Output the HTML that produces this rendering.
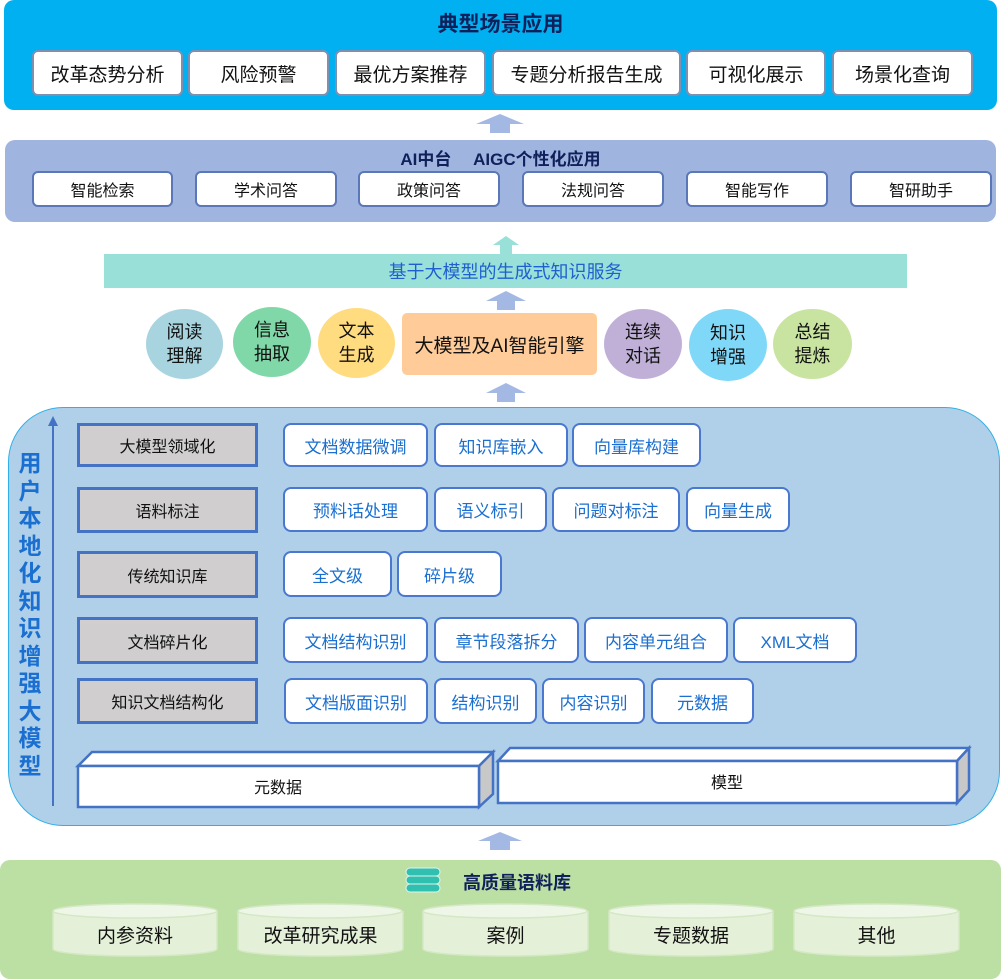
<!DOCTYPE html><html><head><meta charset="utf-8"><style>
*{box-sizing:border-box;margin:0;padding:0}
body{width:1001px;height:979px;position:relative;background:#fff;font-family:"Liberation Sans","Noto Sans CJK SC",sans-serif;overflow:hidden}
.a{position:absolute}
.c{display:flex;align-items:center;justify-content:center;text-align:center}
.tb{background:#fff;border:2px solid #7f8fb0;border-radius:6px;font-size:19px;color:#111}
.ab{background:#fff;border:2px solid #5a78b8;border-radius:6px;font-size:16px;color:#111}
.g{background:#d0cece;border:3px solid #4472c4;font-size:16px;color:#111}
.w{background:#fff;border:2px solid #4a78d0;border-radius:8px;font-size:17px;color:#1a6fd0}
.ov{border-radius:50%;font-size:18px;line-height:24px;color:#111}
.cy{font-size:19px;color:#111}
</style></head><body>
<div class="a" style="left:4px;top:0;width:993px;height:110px;background:#00b0f0;border-radius:10px"></div>
<div class="a c" style="left:4px;top:8px;width:993px;height:30px;font-size:21px;font-weight:bold;color:#10205a">典型场景应用</div>
<div class="a c tb" style="left:32px;top:50px;width:151px;height:46px">改革态势分析</div>
<div class="a c tb" style="left:188px;top:50px;width:141px;height:46px">风险预警</div>
<div class="a c tb" style="left:335px;top:50px;width:151px;height:46px">最优方案推荐</div>
<div class="a c tb" style="left:492px;top:50px;width:189px;height:46px">专题分析报告生成</div>
<div class="a c tb" style="left:686px;top:50px;width:140px;height:46px">可视化展示</div>
<div class="a c tb" style="left:832px;top:50px;width:141px;height:46px">场景化查询</div>

<svg class="a" style="left:0;top:0" width="1001" height="979">
<g fill="#a4b8e4">
<polygon points="476,124 500,114 524,124 510,124 510,133 490,133 490,124"/>
<polygon points="486,301 506,291 526,301 515,301 515,310 497,310 497,301"/>
<polygon points="486,393 506,383 526,393 515,393 515,402 497,402 497,393"/>
<polygon points="478,841 500,832 522,841 510,841 510,850 490,850 490,841"/>
</g>
<polygon fill="#99e0d8" points="493,245 506,236 519,245 512,245 512,254 500,254 500,245"/>
</svg>

<div class="a" style="left:5px;top:140px;width:991px;height:82px;background:#a0b4e0;border-radius:10px"></div>
<div class="a c" style="left:5px;top:145px;width:991px;height:24px;font-size:17px;font-weight:bold;color:#10205a;white-space:pre">AI中台　 AIGC个性化应用</div>
<div class="a c ab" style="left:32px;top:171px;width:141px;height:36px">智能检索</div>
<div class="a c ab" style="left:195px;top:171px;width:142px;height:36px">学术问答</div>
<div class="a c ab" style="left:358px;top:171px;width:142px;height:36px">政策问答</div>
<div class="a c ab" style="left:522px;top:171px;width:142px;height:36px">法规问答</div>
<div class="a c ab" style="left:686px;top:171px;width:142px;height:36px">智能写作</div>
<div class="a c ab" style="left:850px;top:171px;width:142px;height:36px">智研助手</div>

<div class="a c" style="left:104px;top:254px;width:803px;height:34px;background:#99e0d8;font-size:18px;color:#1f5fd0">基于大模型的生成式知识服务</div>

<div class="a c ov" style="left:146px;top:309px;width:77px;height:70px;background:#a8d4e0">阅读<br>理解</div>
<div class="a c ov" style="left:233px;top:307px;width:78px;height:70px;background:#80d8a8">信息<br>抽取</div>
<div class="a c ov" style="left:318px;top:308px;width:77px;height:70px;background:#ffdc80">文本<br>生成</div>
<div class="a c" style="left:402px;top:313px;width:195px;height:62px;background:#ffcc99;border-radius:5px;font-size:19px;color:#111">大模型及AI智能引擎</div>
<div class="a c ov" style="left:604px;top:309px;width:78px;height:70px;background:#c0b0d8">连续<br>对话</div>
<div class="a c ov" style="left:689px;top:309px;width:78px;height:72px;background:#80d8f8">知识<br>增强</div>
<div class="a c ov" style="left:773px;top:309px;width:79px;height:70px;background:#c8e4a0">总结<br>提炼</div>

<div class="a" style="left:8px;top:407px;width:992px;height:419px;background:#b0d0ea;border:1.5px solid #30b0e8;border-radius:55px"></div>
<div class="a" style="left:17px;top:450px;width:26px;font-size:23px;line-height:27.5px;font-weight:bold;color:#1a6fd0;text-align:center">用户本地化知识增强大模型</div>
<svg class="a" style="left:45px;top:416px" width="16" height="392"><line x1="8" y1="8" x2="8" y2="390" stroke="#4472c4" stroke-width="2"/><polygon points="3,10 8,0 13,10" fill="#4472c4"/></svg>

<div class="a c g" style="left:77px;top:423px;width:181px;height:44px">大模型领域化</div>
<div class="a c g" style="left:77px;top:487px;width:181px;height:46px">语料标注</div>
<div class="a c g" style="left:77px;top:551px;width:181px;height:47px">传统知识库</div>
<div class="a c g" style="left:77px;top:617px;width:181px;height:47px">文档碎片化</div>
<div class="a c g" style="left:77px;top:678px;width:181px;height:46px">知识文档结构化</div>

<div class="a c w" style="left:283px;top:423px;width:145px;height:44px">文档数据微调</div>
<div class="a c w" style="left:434px;top:423px;width:134px;height:44px">知识库嵌入</div>
<div class="a c w" style="left:572px;top:423px;width:129px;height:44px">向量库构建</div>
<div class="a c w" style="left:283px;top:487px;width:145px;height:45px">预料话处理</div>
<div class="a c w" style="left:434px;top:487px;width:113px;height:45px">语义标引</div>
<div class="a c w" style="left:552px;top:487px;width:128px;height:45px">问题对标注</div>
<div class="a c w" style="left:686px;top:487px;width:104px;height:45px">向量生成</div>
<div class="a c w" style="left:283px;top:551px;width:109px;height:46px">全文级</div>
<div class="a c w" style="left:397px;top:551px;width:105px;height:46px">碎片级</div>
<div class="a c w" style="left:283px;top:617px;width:145px;height:46px">文档结构识别</div>
<div class="a c w" style="left:434px;top:617px;width:145px;height:46px">章节段落拆分</div>
<div class="a c w" style="left:584px;top:617px;width:144px;height:46px">内容单元组合</div>
<div class="a c w" style="left:733px;top:617px;width:124px;height:46px">XML文档</div>
<div class="a c w" style="left:284px;top:678px;width:144px;height:46px">文档版面识别</div>
<div class="a c w" style="left:434px;top:678px;width:103px;height:46px">结构识别</div>
<div class="a c w" style="left:542px;top:678px;width:103px;height:46px">内容识别</div>
<div class="a c w" style="left:651px;top:678px;width:103px;height:46px">元数据</div>

<svg class="a" style="left:0;top:0" width="1001" height="979">
<g stroke="#4472c4" stroke-width="2.5">
<polygon points="78,766 92,752 493,752 479,766" fill="#fff"/>
<polygon points="479,766 493,752 493,794 479,807" fill="#c8c8c8"/>
<rect x="78" y="766" width="401" height="41" fill="#fff"/>
<polygon points="498,761 510,748 969,748 957,761" fill="#fff"/>
<polygon points="957,761 969,748 969,790 957,803" fill="#c8c8c8"/>
<rect x="498" y="761" width="459" height="42" fill="#fff"/>
</g>
<text x="278" y="793" font-size="16" text-anchor="middle" fill="#111" font-family="Liberation Sans,Noto Sans CJK SC,sans-serif">元数据</text>
<text x="727" y="788" font-size="16" text-anchor="middle" fill="#111" font-family="Liberation Sans,Noto Sans CJK SC,sans-serif">模型</text>
</svg>

<div class="a" style="left:0;top:860px;width:1001px;height:119px;background:#bcdfa4;border-radius:10px"></div>
<svg class="a" style="left:405px;top:867px" width="36" height="27"><g fill="#30c0b0" stroke="#e0f4f0" stroke-width="1"><rect x="1" y="17" width="34" height="8" rx="4"/><rect x="1" y="9" width="34" height="8" rx="4"/><rect x="1" y="1" width="34" height="8" rx="4"/></g></svg>
<div class="a" style="left:463px;top:869px;font-size:18px;font-weight:bold;color:#10205a">高质量语料库</div>
<svg class="a" style="left:0;top:0" width="1001" height="979">
<g fill="#e4f0d8" stroke="#d4e8c4" stroke-width="1.5">
<path d="M53,911 v38 a82,7 0 0 0 164,0 v-38"/><ellipse cx="135" cy="911" rx="82" ry="7" fill="#eef6e8"/>
<path d="M238,911 v38 a82,7 0 0 0 165,0 v-38"/><ellipse cx="320" cy="911" rx="82" ry="7" fill="#eef6e8"/>
<path d="M423,911 v38 a82,7 0 0 0 165,0 v-38"/><ellipse cx="505" cy="911" rx="82" ry="7" fill="#eef6e8"/>
<path d="M609,911 v38 a82,7 0 0 0 164,0 v-38"/><ellipse cx="691" cy="911" rx="82" ry="7" fill="#eef6e8"/>
<path d="M794,911 v38 a82,7 0 0 0 165,0 v-38"/><ellipse cx="876" cy="911" rx="82" ry="7" fill="#eef6e8"/>
</g></svg>
<div class="a c cy" style="left:53px;top:920px;width:164px;height:28px">内参资料</div>
<div class="a c cy" style="left:238px;top:920px;width:165px;height:28px">改革研究成果</div>
<div class="a c cy" style="left:423px;top:920px;width:165px;height:28px">案例</div>
<div class="a c cy" style="left:609px;top:920px;width:164px;height:28px">专题数据</div>
<div class="a c cy" style="left:794px;top:920px;width:165px;height:28px">其他</div>
</body></html>
